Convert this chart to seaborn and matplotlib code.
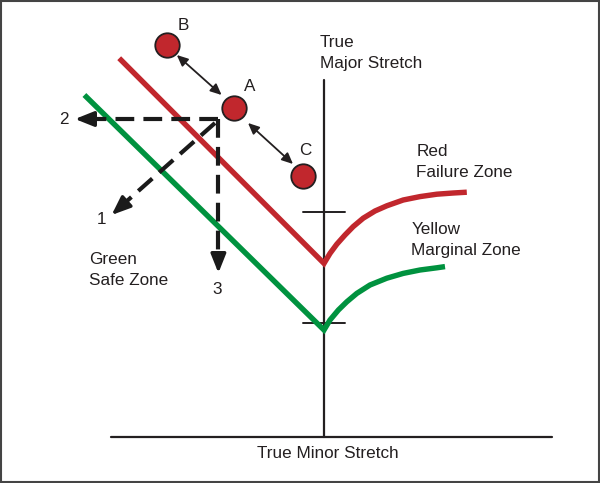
import pandas as pd
import seaborn as sns
import matplotlib.pyplot as plt

# schematic forming limit diagram, units: % strain
red_minor = [-51.2, 0.0, 1.5, 3.2, 5.25, 7.3, 9.8, 12.75, 15.7, 19.8, 24.0, 28.2, 32.3, 35.7]
red_major = [94.7, 43.4, 45.9, 48.2, 50.5, 52.6, 54.7, 56.5, 57.8, 59.25, 60.1, 60.7, 61.0, 61.2]
green_minor = [-59.9, 0.0, 1.5, 3.6, 5.7, 8.2, 11.5, 15.7, 19.8, 24.0, 28.2, 30.25]
green_major = [85.5, 26.75, 29.25, 31.75, 33.8, 35.9, 38.0, 39.7, 40.9, 41.75, 42.3, 42.6]

point_names = ["B", "A", "C"]
point_minor = [-39.25, -22.4, -5.25]
point_major = [98.0, 82.2, 65.25]

tick_major = [56.2, 28.5]

RED = "#C1272D"
GREEN = "#00923F"
INK = "#231F20"

sns.set_style("white")
plt.rcParams["font.family"] = ["Liberation Sans", "DejaVu Sans"]

fig = plt.figure(figsize=(6, 4.83), dpi=100)
ax = fig.add_axes([0, 0, 1, 1])
ax.set_xlim(-81, 69)
ax.set_ylim(-11.5, 109.25)
ax.axis("off")

# frame
fig.patches.append(plt.Rectangle((0.0015, 0.002), 0.997, 0.996, transform=fig.transFigure,
                                 fill=False, edgecolor="#444444", lw=1.5))

# axes of the diagram
ax.plot([-53.25, 57], [0, 0], color=INK, lw=1.6)
ax.plot([0, 0], [0, 89.25], color=INK, lw=1.6)
for t in tick_major:
    ax.plot([-5.3, 5.25], [t, t], color=INK, lw=1.4)

df = pd.DataFrame({
    "minor": red_minor + green_minor,
    "major": red_major + green_major,
    "zone": ["red"] * len(red_minor) + ["green"] * len(green_minor),
})
sns.lineplot(data=df, x="minor", y="major", hue="zone", palette={"red": RED, "green": GREEN},
             estimator=None, sort=False, lw=3.9, legend=False, ax=ax,
             solid_joinstyle="miter", solid_capstyle="butt")

# dashed strain paths from A
dash_kw = dict(color="#1a1a1a", lw=3.0, dashes=(4.5, 2.2), solid_capstyle="butt")
ax.plot([-26.5, -58.5], [79.5, 79.5], **dash_kw)
ax.plot([-26.4, -26.4], [79.5, 45.0], **dash_kw)
ax.plot([-27.25, -50.5], [78.5, 57.9], **dash_kw)
head = dict(arrowstyle="-|>,head_length=0.95,head_width=0.38", color="#1a1a1a", lw=2.4,
            shrinkA=0, shrinkB=0, mutation_scale=12)
ax.annotate("", xy=(-62.25, 79.5), xytext=(-57.0, 79.5), arrowprops=head)
ax.annotate("", xy=(-26.4, 41.0), xytext=(-26.4, 46.0), arrowprops=head)
ax.annotate("", xy=(-53.1, 55.5), xytext=(-49.3, 58.9), arrowprops=head)

# double arrows between points
dbl = dict(arrowstyle="<|-|>,head_length=0.55,head_width=0.25", color=INK, lw=1.3,
           shrinkA=0, shrinkB=0, mutation_scale=12)
ax.annotate("", xy=(-36.8, 95.5), xytext=(-25.6, 85.5), arrowprops=dbl)
ax.annotate("", xy=(-19.0, 78.5), xytext=(-7.75, 68.25), arrowprops=dbl)

sns.scatterplot(x=point_minor, y=point_major, s=310, color=RED, edgecolor=INK,
                linewidth=1.3, ax=ax, zorder=5)

fs = 12.3
lbl = dict(color=INK, fontsize=fs, ha="center", va="center")
for name, dx, dy in [("B", 4.0, 5.0), ("A", 3.8, 5.4), ("C", 0.5, 6.35)]:
    i = point_names.index(name)
    ax.text(point_minor[i] + dx, point_major[i] + dy, name, **lbl)
ax.text(-65.0, 79.5, "2", **lbl)
ax.text(-55.6, 54.25, "1", **lbl)
ax.text(-26.75, 37.0, "3", **lbl)

blk = dict(color=INK, fontsize=fs, ha="left", va="center", linespacing=1.5)
ax.text(-1.1, 96.1, "True\nMajor Stretch", **blk)
ax.text(23.1, 68.7, "Red\nFailure Zone", **blk)
ax.text(21.85, 49.25, "Yellow\nMarginal Zone", **blk)
ax.text(-58.8, 41.8, "Green\nSafe Zone", **blk)
ax.text(1.0, -4.25, "True Minor Stretch", color=INK, fontsize=fs, ha="center", va="center")

fig.savefig("out.png", dpi=100)
